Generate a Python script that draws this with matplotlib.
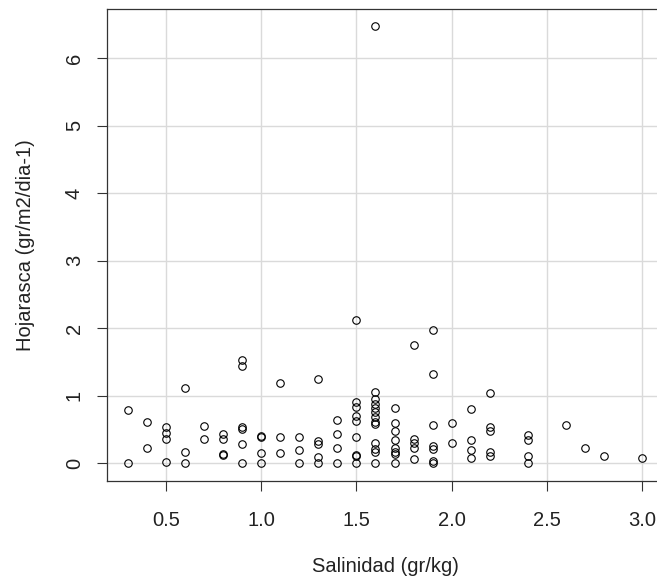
import matplotlib.pyplot as plt

plt.rcParams['font.family'] = ['Liberation Sans', 'DejaVu Sans']

# Salinity (x) and leaf litter (y), grouped by salinity
salinidad = [0.3, 0.3,
             0.4, 0.4,
             0.5, 0.5, 0.5, 0.5,
             0.6, 0.6, 0.6,
             0.7, 0.7,
             0.8, 0.8, 0.8, 0.8,
             0.9, 0.9, 0.9, 0.9, 0.9, 0.9,
             1.0, 1.0, 1.0, 1.0,
             1.1, 1.1, 1.1,
             1.2, 1.2, 1.2,
             1.3, 1.3, 1.3, 1.3, 1.3,
             1.4, 1.4, 1.4, 1.4,
             1.5, 1.5, 1.5, 1.5, 1.5, 1.5, 1.5, 1.5, 1.5,
             1.6, 1.6, 1.6, 1.6, 1.6, 1.6, 1.6, 1.6, 1.6, 1.6, 1.6, 1.6, 1.6,
             1.7, 1.7, 1.7, 1.7, 1.7, 1.7, 1.7, 1.7,
             1.8, 1.8, 1.8, 1.8, 1.8,
             1.9, 1.9, 1.9, 1.9, 1.9, 1.9, 1.9,
             2.0, 2.0,
             2.1, 2.1, 2.1, 2.1,
             2.2, 2.2, 2.2, 2.2, 2.2,
             2.4, 2.4, 2.4, 2.4,
             2.6, 2.7, 2.8, 3.0]
hojarasca = [0.78, 0.0,
             0.61, 0.23,
             0.54, 0.45, 0.36, 0.02,
             1.11, 0.17, 0.0,
             0.55, 0.36,
             0.43, 0.36, 0.12, 0.13,
             1.53, 1.43, 0.53, 0.51, 0.28, 0.0,
             0.40, 0.38, 0.15, 0.0,
             1.19, 0.38, 0.15,
             0.38, 0.19, 0.0,
             1.24, 0.32, 0.28, 0.09, 0.0,
             0.64, 0.43, 0.23, 0.0,
             2.12, 0.91, 0.83, 0.69, 0.63, 0.39, 0.12, 0.10, 0.0,
             6.47, 1.05, 0.95, 0.87, 0.82, 0.75, 0.68, 0.61, 0.58, 0.29, 0.21, 0.17, 0.0,
             0.81, 0.59, 0.48, 0.34, 0.22, 0.17, 0.13, 0.0,
             1.75, 0.35, 0.29, 0.22, 0.06,
             1.97, 1.32, 0.57, 0.25, 0.21, 0.03, 0.0,
             0.60, 0.30,
             0.80, 0.34, 0.19, 0.08,
             1.04, 0.54, 0.47, 0.17, 0.11,
             0.41, 0.34, 0.10, 0.0,
             0.56, 0.22, 0.11, 0.07]

x_ticks = [0.5, 1.0, 1.5, 2.0, 2.5, 3.0]
y_ticks = [0, 1, 2, 3, 4, 5, 6]

fig = plt.figure(figsize = (6.57, 5.81), dpi = 100)
# axes run a bit past the right edge, as in the cropped original
ax = fig.add_axes([107 / 657, 1 - 480.5 / 581, 556 / 657, 471.7 / 581])

# R-style 4% padding around the data range
x_pad = (max(salinidad) - min(salinidad)) * 0.04
y_pad = (max(hojarasca) - min(hojarasca)) * 0.04
ax.set_xlim(min(salinidad) - x_pad, max(salinidad) + x_pad)
ax.set_ylim(min(hojarasca) - y_pad, max(hojarasca) + y_pad)

ax.grid(color = '#DADADA', linewidth = 1.0)
ax.set_axisbelow(True)

ax.plot(salinidad, hojarasca, linestyle = 'none', marker = 'o', markersize = 5.4,
        markerfacecolor = 'none', markeredgecolor = 'black', markeredgewidth = 0.8)

ax.set_xticks(x_ticks)
ax.set_xticklabels([f'{t:.1f}' for t in x_ticks])
ax.set_yticks(y_ticks)
ax.set_yticklabels([str(t) for t in y_ticks], rotation = 90, va = 'center')

ax.tick_params(axis = 'both', length = 7.2, width = 0.8, color = '#333333', labelsize = 14.5,
               labelcolor = '#222222')
ax.tick_params(axis = 'x', pad = 14.5)
ax.tick_params(axis = 'y', pad = 9.5)

for spine in ax.spines.values():
    spine.set_color('#333333')
    spine.set_linewidth(0.9)

ax.set_xlabel('Salinidad (gr/kg)', fontsize = 14.5, color = '#222222', labelpad = 20)
ax.set_ylabel('Hojarasca (gr/m2/dia-1)', fontsize = 14.5, color = '#222222', labelpad = 21.5)

fig.savefig('out.png', dpi = 100)
